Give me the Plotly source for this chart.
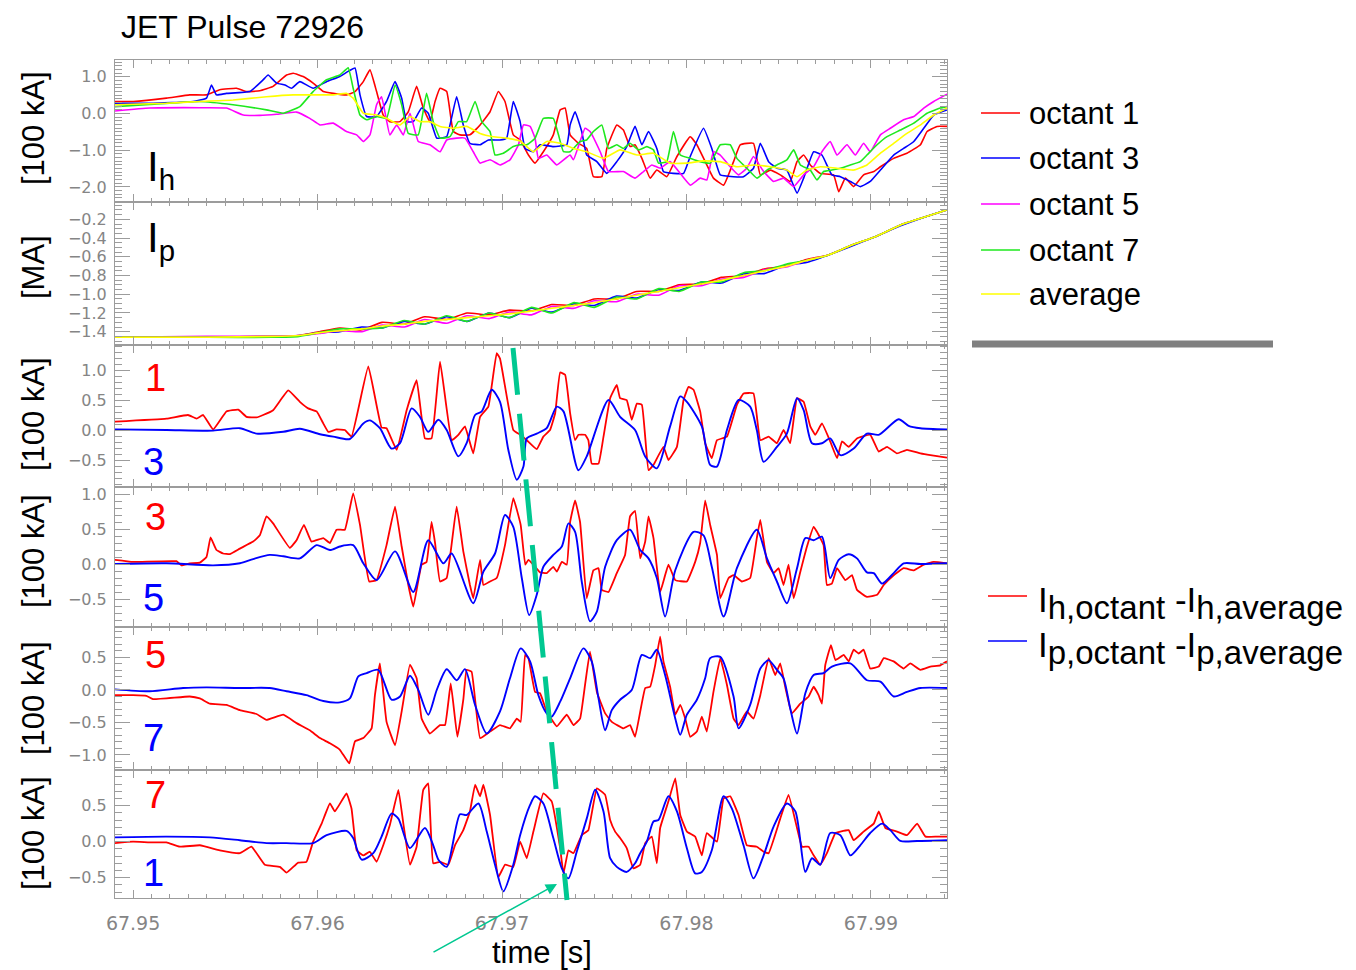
import plotly.graph_objects as go

# ---------------- data (time [s], value) ----------------
# Panel 1: I_h per octant [100 kA]
IH_OCT1 = [(67.94901,0.33),(67.95000,0.33),(67.95181,0.42),(67.95307,0.51),(67.95398,0.51),(67.95470,0.65),(67.95561,0.69),(67.95615,0.60),(67.95687,0.62),(67.95759,0.74),(67.95832,1.05),(67.95868,1.10),(67.95922,1.01),(67.95976,0.83),(67.96031,0.60),(67.96085,0.55),(67.96157,0.51),(67.96203,0.60),(67.96248,0.87),(67.96284,1.19),(67.96320,0.60),(67.96356,-0.04),(67.96392,-0.22),(67.96447,-0.22),(67.96492,0.05),(67.96537,0.74),(67.96573,0.15),(67.96609,-0.22),(67.96637,0.33),(67.96664,0.69),(67.96700,0.60),(67.96736,-0.49),(67.96772,-0.58),(67.96826,-0.58),(67.96881,-0.31),(67.96935,0.05),(67.96980,0.60),(67.97016,0.33),(67.97061,-0.58),(67.97098,-0.72),(67.97143,-1.13),(67.97179,-1.35),(67.97224,-1.04),(67.97278,-0.58),(67.97315,0.10),(67.97342,0.15),(67.97369,-0.58),(67.97414,-0.81),(67.97459,-0.95),(67.97495,-1.72),(67.97541,-1.72),(67.97568,-0.95),(67.97622,-0.31),(67.97658,-0.45),(67.97694,-0.90),(67.97721,-0.85),(67.97758,-1.22),(67.97803,-1.76),(67.97839,-1.54),(67.97893,-1.72),(67.97948,-1.17),(67.98020,-0.63),(67.98056,-0.85),(67.98110,-1.40),(67.98146,-1.76),(67.98201,-1.95),(67.98255,-1.31),(67.98291,-0.85),(67.98363,-0.81),(67.98400,-1.67),(67.98454,-1.54),(67.98508,-1.67),(67.98562,-1.85),(67.98599,-1.31),(67.98635,-1.13),(67.98671,-1.40),(67.98725,-1.63),(67.98797,-1.67),(67.98825,-2.13),(67.98861,-1.76),(67.98906,-1.99),(67.98960,-1.67),(67.99015,-1.58),(67.99051,-1.45),(67.99123,-1.22),(67.99195,-1.08),(67.99268,-0.85),(67.99304,-0.49),(67.99358,-0.35),(67.99412,-0.35)]
IH_OCT3 = [(67.94901,0.28),(67.95090,0.28),(67.95325,0.33),(67.95398,0.42),(67.95425,0.78),(67.95452,0.51),(67.95506,0.55),(67.95633,0.60),(67.95705,0.92),(67.95732,1.05),(67.95778,0.83),(67.95823,0.78),(67.95859,0.69),(67.95904,0.87),(67.95976,0.69),(67.96049,0.87),(67.96121,1.01),(67.96166,1.15),(67.96203,1.24),(67.96230,0.51),(67.96266,-0.08),(67.96320,-0.08),(67.96374,0.33),(67.96420,0.87),(67.96456,0.42),(67.96483,-0.22),(67.96519,-0.22),(67.96564,0.15),(67.96600,0.01),(67.96646,-0.67),(67.96700,-0.63),(67.96754,0.46),(67.96790,-0.31),(67.96826,-0.81),(67.96881,-0.85),(67.96926,-0.72),(67.96989,-0.72),(67.97025,-0.67),(67.97061,0.33),(67.97098,-0.22),(67.97125,-0.95),(67.97170,-1.04),(67.97206,-0.85),(67.97278,-0.90),(67.97351,-0.85),(67.97369,-0.31),(67.97396,0.05),(67.97432,-0.49),(67.97459,-1.13),(67.97514,-1.31),(67.97568,-1.63),(67.97622,-1.31),(67.97676,-0.90),(67.97721,-0.35),(67.97758,-0.85),(67.97794,-0.49),(67.97839,-0.95),(67.97875,-1.58),(67.97929,-1.63),(67.97984,-1.63),(67.98020,-1.17),(67.98092,-0.40),(67.98137,-0.95),(67.98183,-1.67),(67.98255,-1.72),(67.98309,-1.72),(67.98363,-1.49),(67.98400,-0.81),(67.98445,-1.31),(67.98490,-1.49),(67.98544,-1.54),(67.98599,-2.17),(67.98635,-1.76),(67.98689,-1.04),(67.98734,-1.13),(67.98788,-1.67),(67.98834,-1.72),(67.98888,-1.85),(67.98942,-1.99),(67.98996,-1.85),(67.99051,-1.54),(67.99123,-1.13),(67.99177,-0.95),(67.99232,-0.76),(67.99286,-0.40),(67.99340,-0.04),(67.99412,0.10)]
IH_OCT5 = [(67.94901,0.07),(67.95090,0.15),(67.95362,0.16),(67.95506,0.15),(67.95597,-0.04),(67.95687,-0.05),(67.95778,-0.02),(67.95886,0.04),(67.95958,-0.13),(67.96013,-0.31),(67.96085,-0.26),(67.96157,-0.49),(67.96212,-0.58),(67.96248,-0.76),(67.96284,-0.58),(67.96320,0.24),(67.96347,0.46),(67.96392,-0.58),(67.96429,-0.31),(67.96465,-0.58),(67.96501,0.01),(67.96546,-0.76),(67.96609,-0.85),(67.96664,-1.04),(67.96700,-0.72),(67.96754,-0.67),(67.96799,-0.67),(67.96844,-1.04),(67.96881,-1.35),(67.96935,-1.26),(67.96989,-1.40),(67.97043,-1.26),(67.97089,-0.85),(67.97116,-0.31),(67.97152,-0.35),(67.97179,-0.67),(67.97197,-1.22),(67.97242,-1.13),(67.97297,-1.40),(67.97369,-1.13),(67.97387,-1.26),(67.97450,-0.40),(67.97477,-0.49),(67.97532,-1.04),(67.97577,-1.58),(67.97658,-1.58),(67.97721,-1.76),(67.97767,-1.58),(67.97812,-1.40),(67.97857,-1.49),(67.97911,-1.31),(67.98020,-1.95),(67.98074,-1.76),(67.98110,-1.81),(67.98146,-1.04),(67.98183,-1.13),(67.98228,-1.40),(67.98282,-1.67),(67.98327,-1.49),(67.98363,-1.17),(67.98418,-1.58),(67.98472,-1.85),(67.98526,-1.76),(67.98581,-1.99),(67.98635,-1.67),(67.98689,-1.45),(67.98734,-1.04),(67.98779,-0.76),(67.98816,-1.13),(67.98870,-0.85),(67.98915,-1.13),(67.98960,-0.81),(67.98996,-1.04),(67.99051,-0.58),(67.99105,-0.40),(67.99177,-0.17),(67.99232,-0.08),(67.99286,0.15),(67.99340,0.33),(67.99412,0.53)]
IH_OCT7 = [(67.94901,0.19),(67.95090,0.25),(67.95362,0.33),(67.95542,0.24),(67.95723,0.10),(67.95814,0.01),(67.95904,0.19),(67.95976,0.60),(67.96049,0.92),(67.96121,1.05),(67.96166,1.25),(67.96193,0.69),(67.96230,-0.04),(67.96266,-0.17),(67.96320,-0.08),(67.96374,-0.13),(67.96420,0.78),(67.96456,0.24),(67.96492,-0.54),(67.96546,-0.58),(67.96591,0.55),(67.96627,-0.22),(67.96664,-0.67),(67.96718,-0.63),(67.96763,-0.22),(67.96808,-0.22),(67.96854,0.33),(67.96890,-0.22),(67.96935,-0.49),(67.96962,-1.13),(67.97007,-1.08),(67.97061,-0.90),(67.97098,-0.85),(67.97134,-0.85),(67.97179,-0.67),(67.97224,-0.13),(67.97278,-0.13),(67.97306,-0.58),(67.97333,-1.04),(67.97369,-1.04),(67.97423,-0.76),(67.97459,-0.72),(67.97495,-0.49),(67.97541,-0.31),(67.97577,-0.95),(67.97622,-0.85),(67.97658,-0.95),(67.97694,-0.81),(67.97740,-0.99),(67.97785,-0.90),(67.97821,-0.99),(67.97848,-1.35),(67.97893,-1.31),(67.97929,-0.49),(67.97966,-1.13),(67.98020,-1.22),(67.98074,-1.31),(67.98128,-1.35),(67.98183,-0.85),(67.98237,-0.85),(67.98273,-1.22),(67.98327,-1.49),(67.98382,-1.76),(67.98436,-1.54),(67.98490,-1.40),(67.98544,-1.26),(67.98581,-0.99),(67.98617,-1.40),(67.98671,-1.54),(67.98707,-1.81),(67.98743,-1.58),(67.98788,-1.54),(67.98834,-1.49),(67.98888,-1.40),(67.98942,-1.31),(67.98978,-1.13),(67.99033,-0.85),(67.99087,-0.63),(67.99159,-0.45),(67.99232,-0.26),(67.99304,0.01),(67.99376,0.15),(67.99412,0.19)]
IH_AVG = [(67.94901,0.24),(67.95181,0.28),(67.95362,0.33),(67.95542,0.37),(67.95723,0.46),(67.95868,0.51),(67.96085,0.51),(67.96157,0.55),(67.96193,0.42),(67.96248,0.01),(67.96320,-0.04),(67.96374,-0.13),(67.96447,-0.31),(67.96501,-0.08),(67.96555,-0.22),(67.96609,-0.22),(67.96664,-0.35),(67.96736,-0.40),(67.96808,-0.35),(67.96881,-0.54),(67.96953,-0.63),(67.97025,-0.67),(67.97098,-0.75),(67.97170,-1.04),(67.97242,-0.76),(67.97315,-0.81),(67.97387,-0.95),(67.97459,-1.04),(67.97550,-1.22),(67.97640,-0.99),(67.97731,-1.13),(67.97821,-1.08),(67.97911,-1.35),(67.98002,-1.35),(67.98092,-1.29),(67.98183,-1.31),(67.98273,-1.45),(67.98363,-1.40),(67.98454,-1.45),(67.98544,-1.54),(67.98599,-1.72),(67.98653,-1.54),(67.98725,-1.45),(67.98816,-1.49),(67.98906,-1.54),(67.98978,-1.40),(67.99051,-1.08),(67.99123,-0.81),(67.99195,-0.54),(67.99268,-0.31),(67.99340,-0.04),(67.99412,0.15)]

# Panel 2: I_p per octant [MA]
IP_TIME = [67.94902,67.9540,67.9575,67.9590,67.9601,67.9612,67.9624,67.9635,67.9647,67.9658,67.9670,67.9681,67.9693,67.9704,67.9716,67.9727,67.9739,67.9750,67.9762,67.9773,67.9785,67.9796,67.9808,67.9819,67.9831,67.9842,67.9854,67.9865,67.9877,67.9889,67.9903,67.9916,67.9930,67.9941]
IP_OCT1 = [-1.46,-1.46,-1.45,-1.44,-1.40,-1.36,-1.38,-1.30,-1.32,-1.24,-1.27,-1.20,-1.22,-1.17,-1.18,-1.11,-1.12,-1.05,-1.05,-0.97,-0.97,-0.90,-0.89,-0.82,-0.80,-0.73,-0.70,-0.63,-0.58,-0.48,-0.38,-0.26,-0.17,-0.10]
IP_OCT3 = [-1.46,-1.46,-1.45,-1.44,-1.41,-1.40,-1.35,-1.36,-1.29,-1.32,-1.24,-1.29,-1.20,-1.25,-1.15,-1.19,-1.10,-1.12,-1.02,-1.04,-0.95,-0.96,-0.87,-0.88,-0.78,-0.78,-0.69,-0.66,-0.58,-0.49,-0.38,-0.27,-0.17,-0.10]
IP_OCT5 = [-1.46,-1.45,-1.45,-1.44,-1.42,-1.39,-1.40,-1.33,-1.35,-1.27,-1.31,-1.23,-1.26,-1.19,-1.22,-1.13,-1.15,-1.07,-1.08,-1.00,-1.01,-0.91,-0.91,-0.84,-0.82,-0.74,-0.71,-0.64,-0.58,-0.48,-0.38,-0.26,-0.17,-0.10]
IP_OCT7 = [-1.46,-1.46,-1.46,-1.45,-1.41,-1.37,-1.37,-1.36,-1.28,-1.32,-1.23,-1.29,-1.20,-1.25,-1.14,-1.20,-1.09,-1.14,-1.03,-1.05,-0.94,-0.97,-0.87,-0.87,-0.77,-0.75,-0.68,-0.64,-0.58,-0.48,-0.38,-0.26,-0.17,-0.10]
IP_AVG = [-1.46,-1.46,-1.45,-1.44,-1.41,-1.39,-1.37,-1.34,-1.32,-1.29,-1.27,-1.25,-1.23,-1.21,-1.18,-1.15,-1.12,-1.09,-1.05,-1.01,-0.97,-0.93,-0.89,-0.85,-0.80,-0.75,-0.70,-0.64,-0.58,-0.48,-0.38,-0.26,-0.17,-0.10]

# Panels 3-6: octant minus average [100 kA]; "H" = I_h difference (red), "P" = I_p difference (blue)
D1_H = [(67.94901,0.14),(67.95181,0.19),(67.95298,0.25),(67.95344,0.19),(67.95380,0.25),(67.95434,0.01),(67.95506,0.31),(67.95570,0.34),(67.95615,0.22),(67.95669,0.21),(67.95705,0.25),(67.95759,0.33),(67.95841,0.66),(67.95904,0.47),(67.95949,0.36),(67.95995,0.31),(67.96031,0.11),(67.96058,-0.03),(67.96103,0.01),(67.96148,0.0),(67.96184,-0.11),(67.96275,1.06),(67.96347,0.04),(67.96374,0.03),(67.96429,-0.33),(67.96483,0.33),(67.96537,0.83),(67.96582,-0.14),(67.96618,-0.14),(67.96664,1.14),(67.96727,-0.17),(67.96763,-0.08),(67.96799,0.06),(67.96844,-0.39),(67.96881,0.22),(67.96926,0.39),(67.96971,1.28),(67.96989,1.19),(67.97061,0.0),(67.97098,-0.08),(67.97134,-0.17),(67.97188,-0.32),(67.97224,-0.11),(67.97260,0.0),(67.97288,0.28),(67.97315,0.96),(67.97342,0.92),(67.97369,0.28),(67.97396,-0.17),(67.97414,-0.08),(67.97450,-0.08),(67.97468,-0.17),(67.97486,-0.56),(67.97523,-0.56),(67.97550,-0.11),(67.97586,0.53),(67.97622,0.75),(67.97640,0.53),(67.97676,0.5),(67.97703,0.17),(67.97731,0.44),(67.97758,0.42),(67.97794,-0.67),(67.97821,-0.58),(67.97875,-0.28),(67.97902,-0.5),(67.97948,-0.28),(67.97984,0.5),(67.98011,0.72),(67.98038,0.67),(67.98074,0.31),(67.98101,-0.22),(67.98137,-0.47),(67.98165,-0.17),(67.98219,-0.11),(67.98273,0.42),(67.98309,0.61),(67.98363,0.61),(67.98400,-0.17),(67.98445,-0.11),(67.98490,-0.22),(67.98526,0.0),(67.98562,-0.22),(67.98599,0.53),(67.98635,0.47),(67.98671,0.06),(67.98698,-0.08),(67.98734,0.11),(67.98779,-0.19),(67.98816,-0.47),(67.98843,-0.19),(67.98879,-0.28),(67.98924,-0.14),(67.98996,-0.08),(67.99042,-0.36),(67.99087,-0.28),(67.99141,-0.39),(67.99195,-0.33),(67.99268,-0.39),(67.99322,-0.42),(67.99412,-0.46)]
D3_P = [(67.94901,0.01),(67.95181,0.0),(67.95434,-0.01),(67.95579,0.03),(67.95669,-0.06),(67.95814,-0.03),(67.95904,0.02),(67.96013,-0.07),(67.96085,-0.11),(67.96175,-0.15),(67.96248,0.11),(67.96284,0.16),(67.96338,0.03),(67.96401,-0.31),(67.96447,-0.22),(67.96510,0.36),(67.96555,0.22),(67.96600,-0.03),(67.96655,0.17),(67.96700,0.0),(67.96763,-0.44),(67.96808,-0.22),(67.96854,0.25),(67.96890,0.31),(67.96944,0.67),(67.96989,0.47),(67.97034,-0.33),(67.97080,-0.83),(67.97116,-0.61),(67.97134,-0.14),(67.97188,-0.06),(67.97242,0.03),(67.97297,0.39),(67.97333,0.31),(67.97414,-0.67),(67.97459,-0.44),(67.97577,0.5),(67.97640,0.22),(67.97721,0.0),(67.97776,-0.44),(67.97839,-0.64),(67.97911,0.06),(67.97966,0.56),(67.98002,0.47),(67.98083,0.06),(67.98128,-0.58),(67.98165,-0.61),(67.98219,0.0),(67.98282,0.5),(67.98345,0.39),(67.98381,0.0),(67.98418,-0.53),(67.98490,-0.28),(67.98544,-0.06),(67.98599,0.53),(67.98635,0.33),(67.98680,-0.22),(67.98734,-0.22),(67.98779,-0.14),(67.98834,-0.42),(67.98906,-0.31),(67.98978,-0.06),(67.99042,-0.08),(67.99150,0.18),(67.99204,0.07),(67.99268,0.03),(67.99412,0.01)]
D3_H = [(67.94901,0.06),(67.95000,0.03),(67.95235,0.04),(67.95262,-0.02),(67.95307,0.01),(67.95362,0.02),(67.95398,0.1),(67.95420,0.38),(67.95452,0.2),(67.95488,0.15),(67.95524,0.14),(67.95579,0.22),(67.95651,0.32),(67.95687,0.41),(67.95723,0.68),(67.95759,0.58),(67.95850,0.23),(67.95886,0.34),(67.95926,0.56),(67.95967,0.32),(67.96031,0.37),(67.96067,0.3),(67.96103,0.49),(67.96148,0.49),(67.96193,1.01),(67.96230,0.56),(67.96280,-0.25),(67.96320,-0.23),(67.96374,0.27),(67.96420,0.82),(67.96456,0.25),(67.96492,-0.3),(67.96519,-0.61),(67.96564,-0.01),(67.96591,0.03),(67.96618,0.6),(67.96637,0.3),(67.96664,-0.25),(67.96700,-0.2),(67.96754,0.82),(67.96790,0.18),(67.96826,-0.3),(67.96844,-0.49),(67.96881,0.06),(67.96899,-0.3),(67.96935,-0.25),(67.96971,-0.2),(67.97016,0.27),(67.97061,0.94),(67.97101,0.56),(67.97126,-0.01),(67.97143,0.06),(67.97170,-0.01),(67.97206,-0.12),(67.97242,-0.13),(67.97278,-0.04),(67.97297,-0.11),(67.97324,0.03),(67.97351,-0.01),(67.97369,0.6),(67.97396,0.91),(67.97423,0.6),(67.97459,-0.49),(67.97495,-0.09),(67.97523,-0.06),(67.97541,-0.37),(67.97577,-0.4),(67.97622,-0.13),(67.97667,0.13),(67.97694,0.68),(67.97721,0.76),(67.97749,0.08),(67.97776,0.32),(67.97794,0.68),(67.97821,0.37),(67.97857,-0.4),(67.97902,-0.01),(67.97939,-0.23),(67.98002,-0.25),(67.98047,0.03),(67.98074,0.3),(67.98101,0.91),(67.98128,0.56),(67.98165,0.13),(67.98183,-0.49),(67.98228,-0.2),(67.98255,-0.16),(67.98300,-0.25),(67.98345,-0.2),(67.98381,0.37),(67.98400,0.63),(67.98436,0.03),(67.98472,-0.13),(67.98499,-0.06),(67.98526,-0.3),(67.98553,-0.01),(67.98581,-0.49),(67.98617,-0.11),(67.98653,0.25),(67.98689,0.53),(67.98707,0.46),(67.98743,0.27),(67.98761,-0.3),(67.98788,-0.28),(67.98816,-0.06),(67.98861,-0.23),(67.98897,-0.16),(67.98924,-0.37),(67.98978,-0.47),(67.99033,-0.44),(67.99069,-0.3),(67.99123,-0.16),(67.99177,-0.06),(67.99232,-0.09),(67.99286,-0.01),(67.99340,0.03),(67.99412,0.01)]
D5_P = [(67.94901,0.0),(67.95181,0.01),(67.95434,-0.02),(67.95579,0.01),(67.95651,0.07),(67.95741,0.13),(67.95814,0.11),(67.95904,0.08),(67.95995,0.27),(67.96067,0.2),(67.96121,0.25),(67.96193,0.27),(67.96248,0.01),(67.96320,-0.23),(67.96420,0.18),(67.96519,-0.4),(67.96600,0.34),(67.96682,0.01),(67.96727,0.15),(67.96844,-0.56),(67.96899,-0.11),(67.96962,0.15),(67.97016,0.7),(67.97061,0.53),(67.97107,-0.2),(67.97147,-0.73),(67.97188,-0.44),(67.97224,-0.04),(67.97278,0.13),(67.97324,0.25),(67.97360,0.58),(67.97396,0.46),(67.97432,-0.25),(67.97477,-0.82),(67.97514,-0.68),(67.97559,-0.04),(67.97622,0.34),(67.97694,0.49),(67.97749,0.2),(67.97794,0.08),(67.97839,-0.2),(67.97884,-0.75),(67.97939,-0.09),(67.98038,0.46),(67.98092,0.41),(67.98137,-0.04),(67.98201,-0.75),(67.98273,-0.06),(67.98381,0.49),(67.98436,0.08),(67.98490,-0.25),(67.98544,-0.56),(67.98599,-0.06),(67.98644,0.37),(67.98689,0.34),(67.98734,0.39),(67.98779,-0.2),(67.98825,0.06),(67.98879,0.14),(67.98924,0.08),(67.98978,-0.12),(67.99015,-0.13),(67.99060,-0.28),(67.99123,-0.13),(67.99177,0.01),(67.99268,0.0),(67.99412,0.01)]
D5_H = [(67.94901,-0.08),(67.95000,-0.08),(67.95072,-0.09),(67.95108,-0.14),(67.95307,-0.1),(67.95362,-0.13),(67.95416,-0.21),(67.95506,-0.23),(67.95579,-0.31),(67.95669,-0.37),(67.95723,-0.46),(67.95814,-0.38),(67.95886,-0.51),(67.95958,-0.62),(67.96013,-0.74),(67.96067,-0.82),(67.96121,-0.92),(67.96172,-1.13),(67.96203,-0.79),(67.96248,-0.74),(67.96293,-0.59),(67.96311,-0.08),(67.96338,0.41),(67.96374,-0.49),(67.96420,-0.85),(67.96456,-0.33),(67.96501,0.39),(67.96537,0.18),(67.96564,-0.44),(67.96609,-0.67),(67.96664,-0.54),(67.96691,-0.54),(67.96722,0.1),(67.96758,-0.72),(67.96790,-0.15),(67.96808,0.31),(67.96835,0.28),(67.96881,-0.74),(67.96935,-0.64),(67.96989,-0.54),(67.97043,-0.59),(67.97080,-0.44),(67.97101,-0.49),(67.97125,0.54),(67.97143,0.49),(67.97179,-0.03),(67.97206,-0.05),(67.97242,-0.33),(67.97297,-0.56),(67.97351,-0.38),(67.97387,-0.54),(67.97423,-0.44),(67.97450,0.08),(67.97477,0.59),(67.97514,-0.03),(67.97559,-0.36),(67.97595,-0.49),(67.97658,-0.59),(67.97694,-0.54),(67.97721,-0.72),(67.97776,0.03),(67.97803,0.05),(67.97830,0.38),(67.97857,0.82),(67.97875,0.44),(67.97911,0.05),(67.97939,-0.38),(67.97966,-0.23),(67.97993,-0.44),(67.98020,-0.72),(67.98056,-0.64),(67.98083,-0.41),(67.98110,-0.64),(67.98146,-0.03),(67.98183,0.49),(67.98219,0.08),(67.98255,-0.44),(67.98282,-0.54),(67.98327,-0.33),(67.98363,-0.44),(67.98400,-0.08),(67.98445,0.49),(67.98481,0.23),(67.98508,0.41),(67.98535,0.05),(67.98571,-0.36),(67.98617,-0.21),(67.98662,-0.1),(67.98689,0.05),(67.98716,-0.08),(67.98734,-0.21),(67.98752,0.38),(67.98783,0.69),(67.98807,0.46),(67.98852,0.54),(67.98879,0.44),(67.98906,0.62),(67.98933,0.56),(67.98960,0.62),(67.98996,0.33),(67.99042,0.36),(67.99069,0.49),(67.99123,0.44),(67.99177,0.33),(67.99213,0.41),(67.99268,0.31),(67.99322,0.36),(67.99376,0.38),(67.99412,0.44)]
D7_P = [(67.94901,0.01),(67.95090,-0.02),(67.95271,0.03),(67.95398,0.04),(67.95579,0.03),(67.95741,0.03),(67.95832,-0.02),(67.95940,-0.08),(67.96031,-0.17),(67.96121,-0.19),(67.96175,-0.13),(67.96221,0.21),(67.96266,0.26),(67.96329,0.31),(67.96401,-0.15),(67.96447,-0.1),(67.96501,0.22),(67.96546,0.0),(67.96600,-0.38),(67.96646,0.0),(67.96700,0.32),(67.96754,0.15),(67.96799,0.32),(67.96854,-0.23),(67.96917,-0.67),(67.96989,-0.33),(67.97043,0.18),(67.97101,0.64),(67.97152,0.44),(67.97197,-0.08),(67.97242,-0.36),(67.97269,-0.41),(67.97315,-0.18),(67.97369,0.18),(67.97441,0.64),(67.97486,0.44),(67.97523,-0.13),(67.97559,-0.62),(67.97595,-0.31),(67.97640,-0.15),(67.97703,0.0),(67.97758,0.54),(67.97803,0.49),(67.97839,0.62),(67.97884,0.23),(67.97939,-0.44),(67.97966,-0.69),(67.98002,-0.38),(67.98056,-0.15),(67.98101,0.18),(67.98128,0.49),(67.98183,0.51),(67.98255,-0.1),(67.98282,-0.59),(67.98345,-0.23),(67.98400,0.33),(67.98445,0.46),(67.98490,0.31),(67.98526,0.18),(67.98562,-0.28),(67.98599,-0.67),(67.98644,-0.05),(67.98689,0.23),(67.98743,0.26),(67.98788,0.36),(67.98888,0.41),(67.98978,0.15),(67.99051,0.13),(67.99123,-0.1),(67.99195,-0.03),(67.99268,0.03),(67.99412,0.03)]
D7_H = [(67.94901,-0.02),(67.95000,0.0),(67.95090,-0.01),(67.95181,-0.01),(67.95253,-0.07),(67.95362,-0.05),(67.95470,-0.12),(67.95579,-0.16),(67.95642,-0.07),(67.95714,-0.32),(67.95796,-0.35),(67.95832,-0.43),(67.95895,-0.29),(67.95940,-0.28),(67.95976,0.0),(67.96022,0.25),(67.96067,0.53),(67.96094,0.42),(67.96157,0.67),(67.96184,0.46),(67.96212,-0.12),(67.96248,-0.19),(67.96284,-0.14),(67.96320,-0.28),(67.96356,-0.05),(67.96392,0.23),(67.96438,0.72),(67.96465,0.25),(67.96501,-0.32),(67.96537,-0.07),(67.96573,0.72),(67.96600,0.81),(67.96627,-0.3),(67.96664,-0.28),(67.96709,-0.32),(67.96745,-0.05),(67.96790,0.16),(67.96826,0.42),(67.96854,0.79),(67.96881,0.63),(67.96899,0.79),(67.96935,0.37),(67.96980,-0.49),(67.97016,-0.32),(67.97061,-0.35),(67.97098,0.0),(67.97134,-0.23),(67.97170,0.14),(67.97224,0.67),(67.97269,0.56),(67.97315,-0.09),(67.97333,-0.44),(67.97360,-0.12),(67.97387,-0.16),(67.97432,0.09),(67.97468,0.16),(67.97514,0.74),(67.97559,0.65),(67.97586,0.3),(67.97613,0.14),(67.97640,0.05),(67.97676,-0.09),(67.97712,-0.37),(67.97749,-0.32),(67.97776,-0.02),(67.97812,0.07),(67.97839,-0.3),(67.97857,0.19),(67.97902,0.56),(67.97939,0.88),(67.97966,0.37),(67.98002,0.14),(67.98047,0.07),(67.98083,-0.19),(67.98110,0.12),(67.98165,0.0),(67.98201,0.6),(67.98237,0.63),(67.98282,0.37),(67.98327,-0.05),(67.98381,-0.07),(67.98418,-0.14),(67.98445,-0.16),(67.98508,0.32),(67.98553,0.65),(67.98599,0.19),(67.98626,-0.07),(67.98662,-0.07),(67.98689,-0.19),(67.98725,-0.32),(67.98761,-0.16),(67.98807,0.12),(67.98834,0.14),(67.98879,0.16),(67.98906,0.02),(67.98960,0.14),(67.99015,0.25),(67.99042,0.42),(67.99078,0.19),(67.99141,0.14),(67.99195,0.09),(67.99250,0.25),(67.99295,0.07),(67.99358,0.07),(67.99412,0.07)]
D1_P = [(67.94901,0.06),(67.95181,0.07),(67.95416,0.06),(67.95579,0.02),(67.95723,-0.02),(67.95832,-0.02),(67.95976,-0.02),(67.96049,0.09),(67.96157,0.15),(67.96193,0.05),(67.96239,-0.25),(67.96302,-0.16),(67.96347,0.07),(67.96401,0.39),(67.96438,0.32),(67.96501,-0.09),(67.96582,0.19),(67.96627,-0.05),(67.96655,-0.25),(67.96700,-0.35),(67.96772,0.38),(67.96808,0.37),(67.96872,0.53),(67.96917,0.14),(67.96962,-0.32),(67.97007,-0.69),(67.97061,-0.32),(67.97098,0.09),(67.97152,0.51),(67.97179,0.63),(67.97224,0.53),(67.97278,0.05),(67.97324,-0.37),(67.97360,-0.51),(67.97405,-0.14),(67.97459,0.32),(67.97505,0.72),(67.97550,0.42),(67.97586,-0.23),(67.97622,-0.35),(67.97676,-0.42),(67.97721,-0.3),(67.97749,-0.16),(67.97785,0.0),(67.97821,0.28),(67.97848,0.3),(67.97902,0.63),(67.97948,0.42),(67.98002,-0.09),(67.98047,-0.44),(67.98083,-0.42),(67.98137,-0.12),(67.98201,0.63),(67.98246,0.46),(67.98309,-0.05),(67.98363,-0.51),(67.98418,-0.19),(67.98472,0.21),(67.98544,0.53),(67.98590,0.42),(67.98644,-0.42),(67.98680,-0.23),(67.98725,-0.32),(67.98779,0.12),(67.98834,0.09),(67.98888,-0.19),(67.98942,-0.05),(67.98996,0.12),(67.99060,0.25),(67.99105,0.16),(67.99159,0.01),(67.99250,0.01),(67.99412,0.02)]

X_TICKS = [67.95, 67.96, 67.97, 67.98, 67.99]
X_TICK_TEXT = ["67.95", "67.96", "67.97", "67.98", "67.99"]
LEGEND_TOP = ["octant 1", "octant 3", "octant 5", "octant 7", "average"]
PANEL_NUMS = [("1", "3"), ("3", "5"), ("5", "7"), ("7", "1")]
Y_TITLES = ["[100 kA]", "[MA]", "[100 kA]", "[100 kA]", "[100 kA]", "[100 kA]"]

# ---------------- styling / layout ----------------
W, H = 1356, 970
ML, MR, MT, MB = 115, 409, 60, 72
PW, PH = W - ML - MR, H - MT - MB
def fx(px): return (px - ML) / PW
def fy(py): return (H - MB - py) / PH

RED, BLUE, MAG, GRN, YEL = "#ff0000", "#0000ff", "#ff00ff", "#1ee81e", "#ffff00"
TEAL = "#00c891"
AXC = "#9c9c9c"
TXT = "Liberation Sans, Arial, sans-serif"
TICKF = "DejaVu Sans, sans-serif"

X_RANGE = [67.94902, 67.99412]
BOUNDS = [60, 202, 345, 487, 627, 770, 898]
Y_RANGES = [[-2.41, 1.46], [-1.542, -0.015], [-0.95, 1.417], [-0.9, 1.1], [-1.231, 0.969], [-0.782, 0.995]]
Y_DTICK = [1.0, 0.2, 0.5, 0.5, 0.5, 0.5]
Y_MINOR = [0.1, 0.05, 0.1, 0.1, 0.1, 0.1]

fig = go.Figure()

def ax(k, c): return c if k == 1 else f"{c}{k}"

def add(k, x, y, color, width, smooth):
    fig.add_trace(go.Scatter(x=x, y=y, mode="lines",
                             line=dict(color=color, width=width, shape="spline", smoothing=smooth),
                             xaxis=ax(k, "x"), yaxis=ax(k, "y"), showlegend=False, hoverinfo="skip"))

def add_pairs(k, pairs, color, width, smooth):
    add(k, [p[0] for p in pairs], [p[1] for p in pairs], color, width, smooth)

for pairs, c in [(IH_OCT1, RED), (IH_OCT3, BLUE), (IH_OCT5, MAG), (IH_OCT7, GRN), (IH_AVG, YEL)]:
    add_pairs(1, pairs, c, 1.6, 0.35)
for vals, c in [(IP_OCT1, RED), (IP_OCT3, BLUE), (IP_OCT5, MAG), (IP_OCT7, GRN), (IP_AVG, YEL)]:
    add(2, IP_TIME, vals, c, 1.6, 0.5)
for k, (h, p) in zip(range(3, 7), [(D1_H, D3_P), (D3_H, D5_P), (D5_H, D7_P), (D7_H, D1_P)]):
    add_pairs(k, h, RED, 1.8, 0.3)
    add_pairs(k, p, BLUE, 1.9, 0.7)

layout = dict(width=W, height=H, margin=dict(l=ML, r=MR, t=MT, b=MB, autoexpand=False),
              paper_bgcolor="white", plot_bgcolor="white", showlegend=False)
for k in range(1, 7):
    layout[ax(k, "xaxis")] = dict(
        domain=[0, 1], anchor=ax(k, "y"), range=X_RANGE, showline=True, linecolor=AXC, linewidth=1,
        mirror="ticks", ticks="inside", ticklen=8, tickcolor=AXC, tickwidth=1,
        tickmode="array", tickvals=X_TICKS, ticktext=X_TICK_TEXT, showticklabels=(k == 6),
        tickfont=dict(family=TICKF, size=19, color="#858585"), ticklabelstandoff=8,
        showgrid=False, zeroline=False, automargin=False,
        minor=dict(ticks="inside", ticklen=4, tickcolor=AXC, dtick=0.001, tick0=67.95, showgrid=False))
    layout[ax(k, "yaxis")] = dict(
        domain=[fy(BOUNDS[k]), fy(BOUNDS[k - 1])], anchor=ax(k, "x"), range=Y_RANGES[k - 1],
        showline=True, linecolor=AXC, linewidth=1, mirror="ticks", ticks="inside", ticklen=15,
        tickcolor=AXC, tickmode="linear", tick0=0, dtick=Y_DTICK[k - 1], tickformat=".1f",
        tickfont=dict(family=TICKF, size=16, color="#858585"), ticklabelstandoff=4,
        showgrid=False, zeroline=False, automargin=False,
        minor=dict(ticks="inside", ticklen=7, tickcolor=AXC, dtick=Y_MINOR[k - 1], tick0=0, showgrid=False))

ann = []
def text(t, px, py, size, color="black", xanchor="center", yanchor="middle", angle=0, font=TXT):
    ann.append(dict(text=t, x=fx(px), y=fy(py), xref="paper", yref="paper", showarrow=False,
                    xanchor=xanchor, yanchor=yanchor, textangle=angle,
                    font=dict(family=font, size=size, color=color)))

text("JET Pulse 72926", 119, 27, 32, xanchor="left")
text("time [s]", 542, 952, 31)
for t, yc in zip(Y_TITLES, [128, 267, 414, 551, 698, 833]):
    text(t, 33, yc, 31, angle=-90)
text("I<sub>h</sub>", 145, 170, 42, xanchor="left")
text("I<sub>p</sub>", 145, 240, 42, xanchor="left")
num_pos = [(378, 462), (517, 598), (655, 738), (795, 873)]
for (a, b), (ya, yb) in zip(PANEL_NUMS, num_pos):
    text(a, 155, ya, 38, RED)
    text(b, 153, yb, 38, BLUE)

shapes = []
leg_cols = [RED, BLUE, MAG, GRN, YEL]
for lab, c, yy in zip(LEGEND_TOP, leg_cols, [113, 158, 204, 250, 294]):
    shapes.append(dict(type="line", xref="paper", yref="paper", x0=fx(981), x1=fx(1020), y0=fy(yy), y1=fy(yy),
                       line=dict(color=c, width=1.5)))
    text(lab, 1027, yy, 31, xanchor="left")
shapes.append(dict(type="line", xref="paper", yref="paper", x0=fx(972), x1=fx(1273), y0=fy(344), y1=fy(344),
                   line=dict(color="#808080", width=7)))

SUB = '<span style="font-size:33px">{}</span>'
for c, yy, lab in [(RED, 596, ("h,octant", "h,average")), (BLUE, 641, ("p,octant", "p,average"))]:
    shapes.append(dict(type="line", xref="paper", yref="paper", x0=fx(988), x1=fx(1027), y0=fy(yy), y1=fy(yy),
                       line=dict(color=c, width=1.5)))
    text("I<sub>" + SUB.format(lab[0]) + "</sub> -I<sub>" + SUB.format(lab[1]) + "</sub>",
         1036, yy + 7, 35, xanchor="left")

# green dashed marker line across lower panels
shapes.append(dict(type="line", xref="paper", yref="paper", x0=fx(513), y0=fy(348), x1=fx(567), y1=fy(900),
                   line=dict(color=TEAL, width=5, dash="47px,19px")))
ann.append(dict(text="", x=fx(557), y=fy(884), xref="paper", yref="paper", showarrow=True,
                ax=-125, ay=69, arrowhead=2, arrowsize=1.4, arrowwidth=1.6, arrowcolor=TEAL))

layout["annotations"] = ann
layout["shapes"] = shapes
fig.update_layout(**layout)
fig.write_html("out.html")
